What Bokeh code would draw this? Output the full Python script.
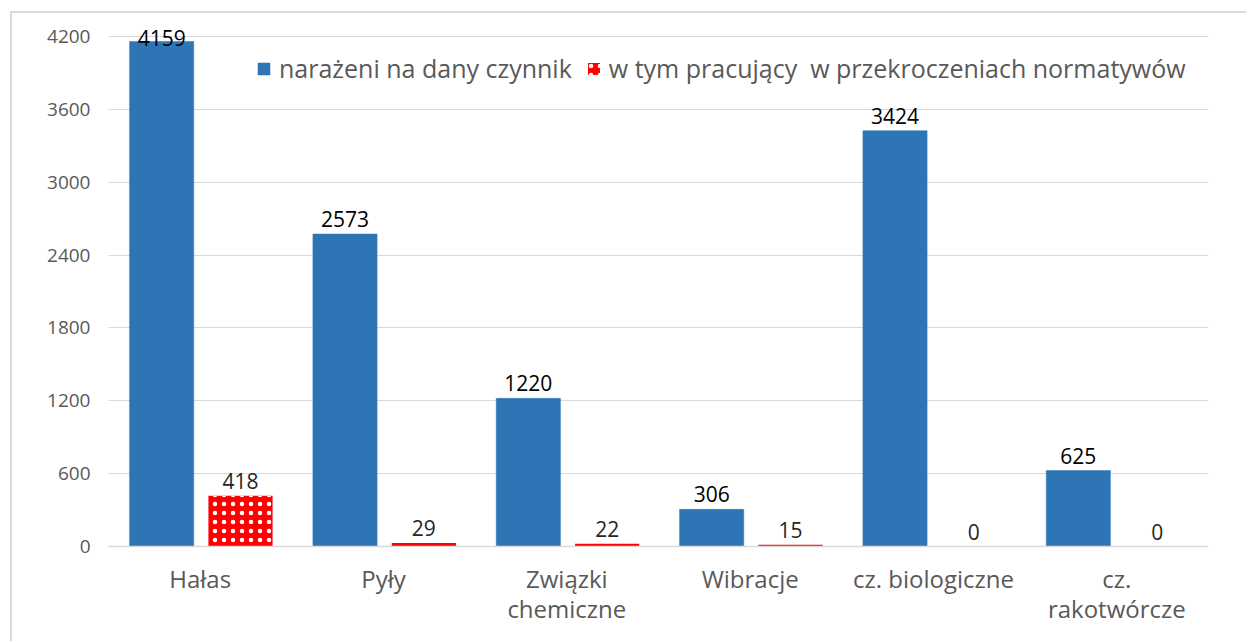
from bokeh.plotting import figure
from bokeh.models import ColumnDataSource, FactorRange, Range1d, FixedTicker, Legend, LegendItem
from bokeh.transform import dodge
from bokeh.core.properties import value
from bokeh.embed import file_html
from bokeh.resources import INLINE

categories = ["Hałas", "Pyły", "Związki\nchemiczne", "Wibracje", "cz. biologiczne", "cz.\nrakotwórcze"]
exposed = [4159, 2573, 1220, 306, 3424, 625]
exceeding = [418, 29, 22, 15, 0, 0]
y_ticks = [0, 600, 1200, 1800, 2400, 3000, 3600, 4200]
series_names = ["narażeni na dany czynnik", "w tym pracujący  w przekroczeniach normatywów"]

FONT = "Open Sans"
TOP = 4200

src = ColumnDataSource(dict(
    cat=categories,
    exposed=exposed,
    exceeding=exceeding,
    exposed_lbl=[str(v) for v in exposed],
    exceeding_lbl=[str(v) for v in exceeding],
    exposed_off=[-3 if v > 0.97 * TOP else -15 for v in exposed],
))

p = figure(
    x_range=FactorRange(*categories, range_padding=0),
    y_range=Range1d(0, 4331.8),
    width=1236, height=630,
    min_border_left=96, min_border_right=40, min_border_top=7, min_border_bottom=97,
    output_backend="svg", toolbar_location=None,
)
p.margin = (11, 0, 0, 10)
p.styles = {"border-left": "2px solid #d9d9d9", "border-top": "2px solid #d9d9d9"}
p.outline_line_color = None
p.background_fill_color = "white"
p.border_fill_color = "white"

r1 = p.vbar(x=dodge("cat", -0.21, range=p.x_range), top="exposed", width=0.35,
            source=src, fill_color="#2e75b6", line_color="#2e75b6", line_width=0.5)
r2 = p.vbar(x=dodge("cat", 0.22, range=p.x_range), top="exceeding", width=0.35,
            source=src, fill_color="#ff0000", line_color=None,
            hatch_pattern="dot", hatch_color="white", hatch_scale=9, hatch_weight=3.5)

p.text(x=dodge("cat", -0.21, range=p.x_range), y="exposed", text="exposed_lbl", source=src,
       text_align="center", text_baseline="alphabetic", y_offset="exposed_off",
       text_font=value(FONT), text_font_size="21px", text_color="black")
p.text(x=dodge("cat", 0.22, range=p.x_range), y="exceeding", text="exceeding_lbl", source=src,
       text_align="center", text_baseline="alphabetic", y_offset=-15,
       text_font=value(FONT), text_font_size="21px", text_color="#262626")

# axes
p.yaxis.ticker = FixedTicker(ticks=y_ticks)
p.yaxis.axis_line_color = None
p.yaxis.major_tick_line_color = None
p.yaxis.minor_tick_line_color = None
p.yaxis.major_tick_out = 0
p.yaxis.major_tick_in = 0
p.yaxis.major_label_standoff = 18
p.yaxis.major_label_text_font = FONT
p.yaxis.major_label_text_font_size = "19px"
p.yaxis.major_label_text_color = "#595959"

p.xaxis.axis_line_color = "#d9d9d9"
p.xaxis.axis_line_width = 1.5
p.xaxis.major_tick_line_color = None
p.xaxis.minor_tick_line_color = None
p.xaxis.major_tick_out = 0
p.xaxis.major_tick_in = 0
p.xaxis.major_label_standoff = 15
p.xaxis.major_label_text_font = FONT
p.xaxis.major_label_text_font_size = "24px"
p.xaxis.major_label_text_color = "#595959"
p.xaxis.major_label_text_line_height = 0.92

p.xgrid.grid_line_color = None
p.ygrid.ticker = FixedTicker(ticks=y_ticks)
p.ygrid.grid_line_color = "#d9d9d9"
p.ygrid.grid_line_width = 1.2

legend = Legend(
    items=[LegendItem(label=series_names[0], renderers=[r1]),
           LegendItem(label=series_names[1], renderers=[r2])],
    orientation="horizontal", location=(148, 461),
    border_line_color=None, background_fill_alpha=0,
    padding=0, margin=0, spacing=14, label_standoff=8,
    glyph_width=15, glyph_height=15,
    label_text_font=FONT, label_text_font_size="25px", label_text_color="#595959",
)
p.add_layout(legend, "center")

open("out.html", "w").write(file_html(p, INLINE))
